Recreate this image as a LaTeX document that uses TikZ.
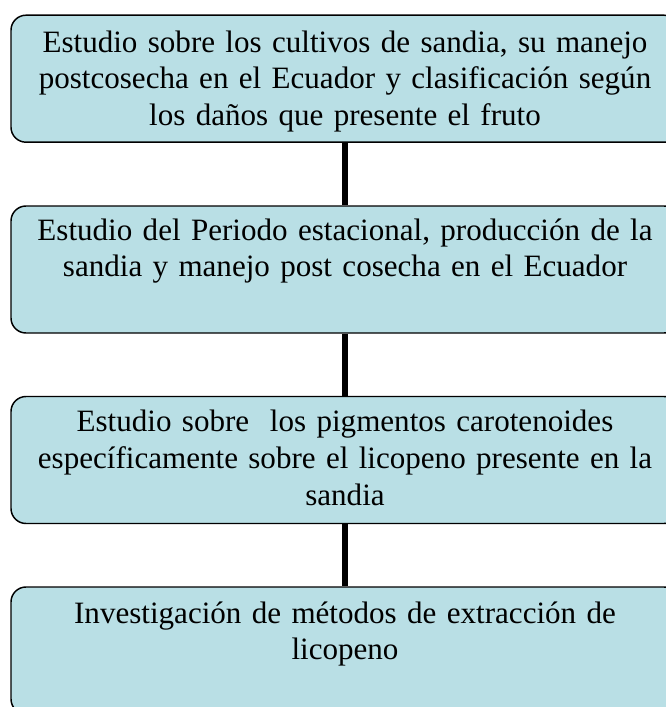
\documentclass[tikz,border=0pt]{standalone}
\usepackage{fontspec}
\setmainfont{Liberation Serif}
\definecolor{boxfill}{RGB}{185,223,229}
\begin{document}
\begin{tikzpicture}[x=0.75pt,y=-0.75pt,
  stagebox/.style={draw=black, line width=1.1pt, fill=boxfill, rounded corners=11.25pt,
    minimum width=501pt, minimum height=95.25pt, inner sep=0pt},
  stagetext/.style={align=center, text width=495pt, inner sep=0pt, anchor=base,
    font=\fontsize{23.3pt}{27.5pt}\selectfont},
  link/.style={line width=4pt}]
\useasboundingbox (0,0) rectangle (666,707);
\clip (0,0) rectangle (666,707);
\node[stagebox] (b1) at (345,78.7) {};
\node[stagebox] (b2) at (345,269.5) {};
\node[stagebox] (b3) at (345,460) {};
\node[stagebox] (b4) at (345,650.5) {};
\draw[link] (b1.south) -- (b2.north);
\draw[link] (b2.south) -- (b3.north);
\draw[link] (b3.south) -- (b4.north);
\node[stagetext] (t1) at (345,52) {Estudio sobre los cultivos de sandia, su manejo\\postcosecha en el Ecuador y clasificación según\\los daños que presente el fruto};
\node[stagetext] (t2) at (345,240) {Estudio del Periodo estacional, producción de la\\sandia y manejo post cosecha en el Ecuador};
\node[stagetext] (t3) at (345,431.7) {Estudio sobre~ los pigmentos carotenoides\\específicamente sobre el licopeno presente en la\\sandia};
\node[stagetext] (t4) at (345,623) {Investigación de métodos de extracción de\\licopeno};
\end{tikzpicture}
\end{document}
